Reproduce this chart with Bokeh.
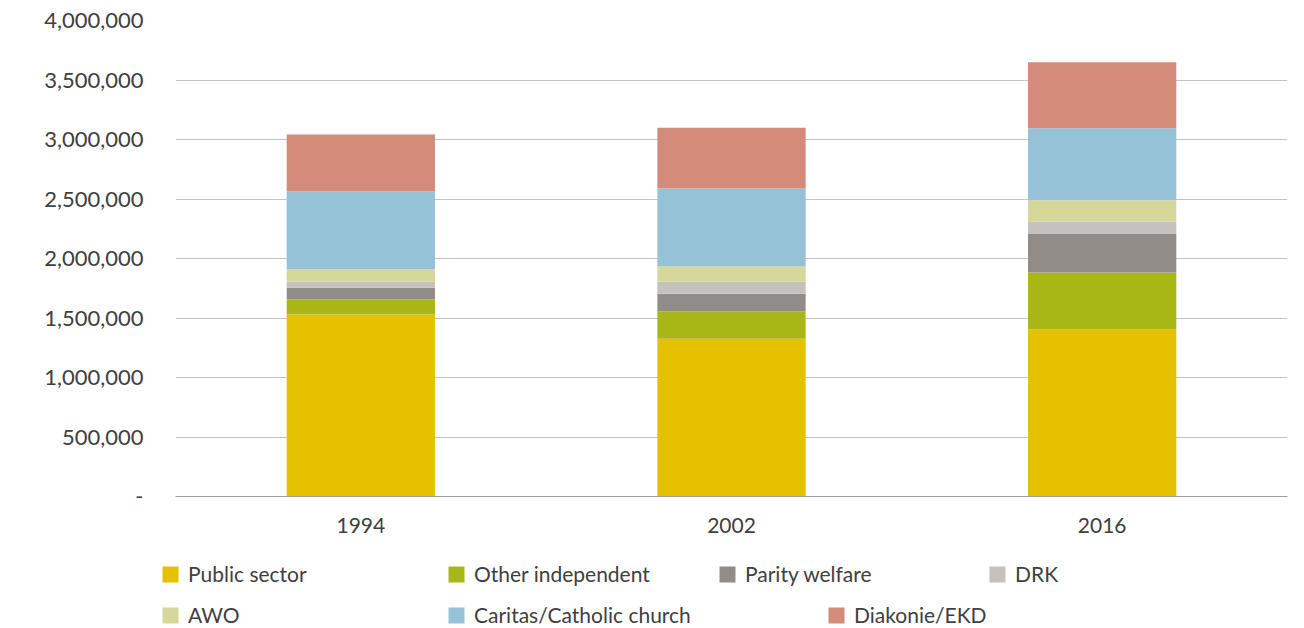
from bokeh.plotting import figure
from bokeh.layouts import column
from bokeh.models import (FactorRange, Range1d, FixedTicker, NumeralTickFormatter,
                          Legend, LegendItem)
from bokeh.embed import file_html
from bokeh.resources import INLINE

years = ["1994", "2002", "2016"]
public_sector = [1530000, 1325000, 1403000]
other_independent = [126000, 230000, 479000]
parity_welfare = [99000, 148000, 328000]
drk = [50000, 101000, 101000]
awo = [104000, 129000, 179000]
caritas = [655000, 655000, 605000]
diakonie = [479000, 510000, 555000]

series_names = ["Public sector", "Other independent", "Parity welfare", "DRK",
                "AWO", "Caritas/Catholic church", "Diakonie/EKD"]
series_values = [public_sector, other_independent, parity_welfare, drk,
                 awo, caritas, diakonie]
colors = ["#E5C100", "#A9B716", "#918C88", "#C5C1BF", "#D6D89A", "#96C2D7", "#D48B7A"]
y_ticks = [0, 500000, 1000000, 1500000, 2000000, 2500000, 3000000, 3500000, 4000000]

FONT = "Lato"
TXT = "#404040"

data = {"year": years}
keys = []
for i, vals in enumerate(series_values):
    k = f"s{i}"
    keys.append(k)
    data[k] = vals

MAIN_H = 540
p = figure(x_range=FactorRange(*years, range_padding=0), y_range=Range1d(0, 4000000),
           width=1304, height=MAIN_H, output_backend="svg", toolbar_location=None,
           min_border_left=175, min_border_right=17, min_border_top=20,
           min_border_bottom=44)
p.outline_line_color = None
p.frame_align = False

renderers = p.vbar_stack(keys, x="year", width=0.4, source=data, color=colors,
                         line_color=None)

# y axis
p.yaxis.ticker = FixedTicker(ticks=y_ticks)
p.yaxis.formatter = NumeralTickFormatter(format="0,0")
p.yaxis.major_label_overrides = {0: "-"}
p.yaxis.axis_line_color = None
p.yaxis.major_tick_line_color = None
p.yaxis.minor_tick_line_color = None
p.yaxis.major_label_standoff = 26
p.yaxis.major_label_text_font = FONT
p.yaxis.major_label_text_font_size = "22px"
p.yaxis.major_label_text_color = TXT
p.ygrid.grid_line_color = "#c4c4c4"
p.ygrid.grid_line_width = 1
p.xgrid.grid_line_color = None

# x axis
p.xaxis.axis_line_color = "#a0a0a0"
p.xaxis.axis_line_width = 1
p.xaxis.major_tick_line_color = None
p.xaxis.minor_tick_line_color = None
p.xaxis.major_label_standoff = 15
p.xaxis.major_label_text_font = FONT
p.xaxis.major_label_text_font_size = "21px"
p.xaxis.major_label_text_color = TXT

# legend strip below, laid out like the reference's flowing legend.
# Its swatches come from the same stacked data, drawn far outside this strip's view.
LEG_H = 628 - MAIN_H
lg_fig = figure(width=1304, height=LEG_H, x_range=FactorRange(*years),
                y_range=Range1d(1e8, 2e8), output_backend="svg", toolbar_location=None,
                min_border_left=0, min_border_right=0, min_border_top=0,
                min_border_bottom=0)
lg_fig.frame_align = False
lg_fig.axis.visible = False
lg_fig.grid.visible = False
lg_fig.outline_line_color = None
swatches = lg_fig.vbar_stack(keys, x="year", width=0.4, source=data, color=colors,
                             line_color=None)

legend_pos = [(160, 42), (446, 42), (717, 42), (987, 42),
              (160, 1), (446, 1), (826, 1)]
for name, r, loc in zip(series_names, swatches, legend_pos):
    lg = Legend(items=[LegendItem(label=name, renderers=[r])], location=loc,
                orientation="horizontal", padding=0, margin=0, spacing=0,
                border_line_color=None, background_fill_alpha=0,
                glyph_width=20, glyph_height=20, label_standoff=8,
                label_height=20, label_text_font=FONT,
                label_text_font_size="21px", label_text_color=TXT)
    lg_fig.add_layout(lg, "center")

layout = column(p, lg_fig, spacing=0)
open("out.html", "w").write(file_html(layout, INLINE))
